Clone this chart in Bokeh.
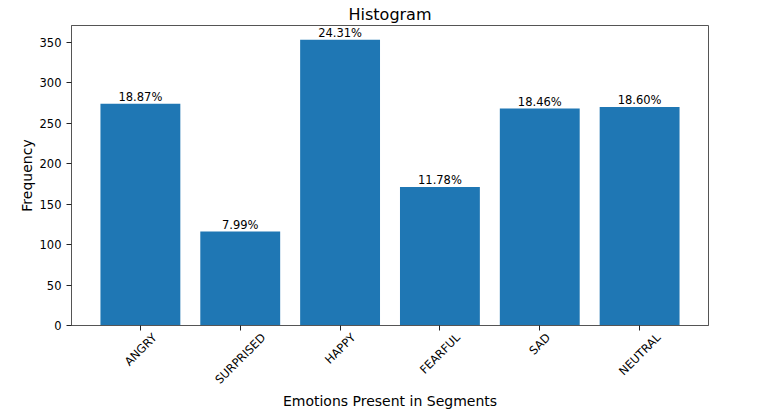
import numpy as np
from bokeh.plotting import figure
from bokeh.models import (ColumnDataSource, Range1d, LinearAxis, FixedTicker,
                          CustomJSTickFormatter)
from bokeh.core.properties import value
from bokeh.embed import file_html
from bokeh.resources import INLINE

categories = ["ANGRY", "SURPRISED", "HAPPY", "FEARFUL", "SAD", "NEUTRAL"]
counts = [274, 116, 353, 171, 268, 270]
pct_labels = ["18.87%", "7.99%", "24.31%", "11.78%", "18.46%", "18.60%"]
y_ticks = [0, 50, 100, 150, 200, 250, 300, 350]

FONT = "DejaVu Sans"
BAR = "#1f77b4"
SPINE = "#555555"
TICK_FS = 11.5
FRAME_W = 637
PAD = 0.38

# approximate DejaVu Sans advance widths (em) for capitals, used to centre rotated labels
_W = dict(A=.684, N=.748, G=.775, R=.695, Y=.611, S=.635, U=.732, P=.603, I=.295,
          E=.632, D=.770, H=.752, F=.575, L=.557, T=.611, O=.787)
def _text_w(s):
    return sum(_W.get(ch, .65) for ch in s) * TICK_FS

n = len(categories)
px_per_unit = FRAME_W / (n + PAD)
centers = [i + 0.5 for i in range(n)]                 # category slot centres
label_pos = [c + _text_w(cat) / (2 * np.sqrt(2)) / px_per_unit for c, cat in zip(centers, categories)]

src = ColumnDataSource(dict(x=centers, cat=categories, count=counts, lab=pct_labels))

p = figure(
    x_range=Range1d(-PAD / 2, n + PAD / 2),
    y_range=Range1d(0, max(counts) * 1.05),
    x_axis_location=None,
    frame_width=FRAME_W, frame_height=300,
    min_border_left=71, min_border_right=40, min_border_bottom=0, min_border_top=0,
    output_backend="svg", toolbar_location=None,
    title="Histogram",
)

p.vbar(x="x", top="count", width=0.8, source=src, fill_color=BAR, line_color=None)
p.text(x="x", y="count", text="lab", source=src, text_align="center", text_baseline="bottom",
       text_font=value(FONT), text_font_size=f"{TICK_FS}px", text_color="black")

# axis A: tick marks only
ax_ticks = LinearAxis(ticker=FixedTicker(ticks=centers),
                      formatter=CustomJSTickFormatter(code="return ''"))
ax_ticks.axis_line_color = SPINE
ax_ticks.major_tick_line_color = "#222222"
ax_ticks.major_tick_out = 5
ax_ticks.major_tick_in = 0
ax_ticks.minor_tick_out = 0
ax_ticks.minor_tick_in = 0
ax_ticks.major_label_standoff = 0
ax_ticks.major_label_text_font_size = "1px"
p.add_layout(ax_ticks, "below")

# axis B: rotated category labels, centred under the ticks (matplotlib style)
ax_lab = LinearAxis(ticker=FixedTicker(ticks=label_pos),
                    formatter=CustomJSTickFormatter(args=dict(names=categories),
                                                    code="return names[index]"))
ax_lab.axis_line_color = None
ax_lab.major_tick_line_color = None
ax_lab.minor_tick_line_color = None
ax_lab.major_tick_out = 0
ax_lab.major_tick_in = 0
ax_lab.minor_tick_out = 0
ax_lab.minor_tick_in = 0
ax_lab.major_label_orientation = np.pi / 4
ax_lab.major_label_standoff = 5
ax_lab.major_label_text_font = FONT
ax_lab.major_label_text_font_size = f"{TICK_FS}px"
ax_lab.major_label_text_color = "black"
ax_lab.axis_label = "Emotions Present in Segments"
ax_lab.axis_label_text_font = FONT
ax_lab.axis_label_text_font_size = "14px"
ax_lab.axis_label_text_font_style = "normal"
ax_lab.axis_label_text_color = "black"
ax_lab.axis_label_standoff = -2
p.add_layout(ax_lab, "below")

p.title.align = "center"
p.title.text_font = FONT
p.title.text_font_size = "16px"
p.title.text_font_style = "normal"
p.title.text_color = "black"
p.title.standoff = 4
p.title.offset = 0

for g in p.grid:
    g.visible = False
p.outline_line_color = SPINE
p.outline_line_width = 1

ya = p.yaxis[0]
ya.axis_line_color = SPINE
ya.major_tick_line_color = "#222222"
ya.major_tick_out = 5
ya.major_tick_in = 0
ya.minor_tick_out = 0
ya.minor_tick_in = 0
ya.major_label_text_font = FONT
ya.major_label_text_font_size = f"{TICK_FS}px"
ya.major_label_text_color = "black"
ya.axis_label_text_font = FONT
ya.axis_label_text_font_size = "14px"
ya.axis_label_text_font_style = "normal"
ya.axis_label_text_color = "black"
ya.ticker = y_ticks
ya.major_label_standoff = 5
ya.axis_label = "Frequency"
ya.axis_label_standoff = 2

open("out.html", "w").write(file_html(p, INLINE))
